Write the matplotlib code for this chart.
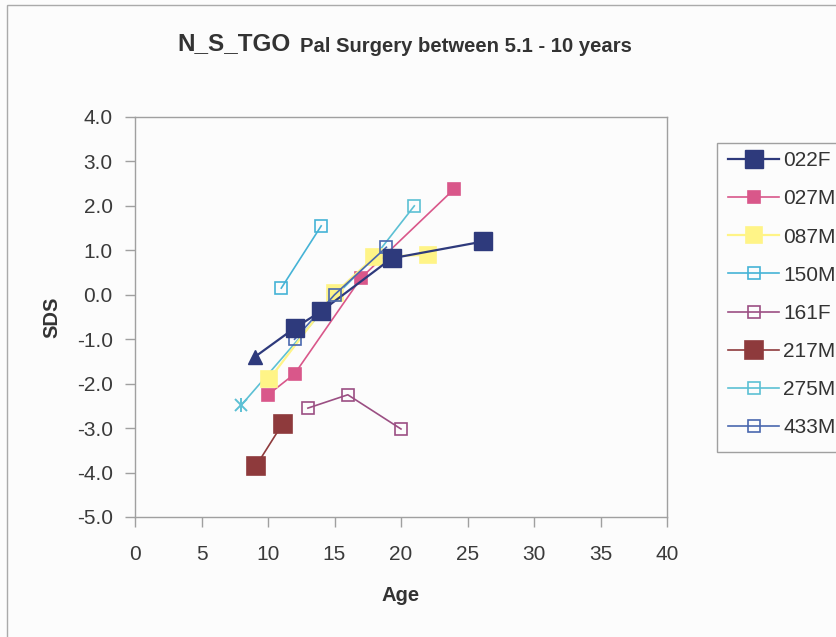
import matplotlib
matplotlib.use("Agg")
import matplotlib.pyplot as plt
from matplotlib.patches import Rectangle

plt.rcParams["font.family"] = ["Liberation Sans", "DejaVu Sans"]
plt.rcParams["axes.unicode_minus"] = False

# Data (age in years, SDS)
x_022F = [9, 12, 14, 19.3, 26.2]
y_022F = [-1.4, -0.75, -0.37, 0.82, 1.2]
x_027M = [10, 12, 17, 24]
y_027M = [-2.25, -1.78, 0.38, 2.38]
x_087M = [10.1, 15, 18, 22]
y_087M = [-1.9, 0.03, 0.85, 0.9]
x_150M = [11, 14]
y_150M = [0.15, 1.55]
x_161F = [13, 16, 20]
y_161F = [-2.55, -2.25, -3.02]
x_217M = [9.1, 11.1]
y_217M = [-3.85, -2.9]
x_275M = [8, 12, 15, 18, 21]
y_275M = [-2.48, -1.1, -0.05, 0.85, 2.0]
x_433M = [12, 15, 18.9]
y_433M = [-1.0, 0.0, 1.07]

names = ["022F", "027M", "087M", "150M", "161F", "217M", "275M", "433M"]
xs = [x_022F, x_027M, x_087M, x_150M, x_161F, x_217M, x_275M, x_433M]
ys = [y_022F, y_027M, y_087M, y_150M, y_161F, y_217M, y_275M, y_433M]

# (colour, marker face, marker size, line width)
styles = {
    "022F": ("#2E3A7C", "#2E3A7C", 13, 1.6),
    "027M": ("#D9578A", "#D9578A", 8, 1.2),
    "087M": ("#FFF487", "#FFF487", 12, 1.6),
    "150M": ("#45B3D6", "none", 8, 1.2),
    "161F": ("#9B4F83", "none", 8, 1.2),
    "217M": ("#8E3A3C", "#8E3A3C", 13, 1.2),
    "275M": ("#5CC0D4", "none", 8, 1.2),
    "433M": ("#4A68AE", "none", 8, 1.2),
}

W, H = 836, 637
fig = plt.figure(figsize=(W / 100, H / 100), dpi=100)
fig.patch.set_facecolor("#FCFCFC")
# outer chart border (runs off the right and bottom edges)
fig.patches.append(Rectangle((7 / W, -0.1), 1.2, 1 - 5 / H + 0.1,
                             transform=fig.transFigure, fill=False,
                             edgecolor="#AAAAAA", linewidth=1.0))

ax = fig.add_axes([135 / W, 120 / H, 532 / W, 400 / H])
ax.set_facecolor("#FCFCFC")

order = ["275M", "150M", "161F", "217M", "027M", "087M", "022F", "433M"]
handles = {}
for name in order:
    i = names.index(name)
    col, face, ms, lw = styles[name]
    x, y = xs[i], ys[i]
    if name == "022F":
        # first point drawn as a triangle
        ax.plot(x, y, color=col, lw=lw, zorder=3)
        ax.plot(x[:1], y[:1], "^", color=col, ms=10, zorder=4)
        ax.plot(x[1:], y[1:], "s", color=col, mfc=face, ms=ms, zorder=4)
        h, = ax.plot([], [], "-s", color=col, mfc=face, ms=ms, lw=lw)
    elif name == "275M":
        ax.plot(x, y, color=col, lw=lw, zorder=3)
        ax.plot(x[:1], y[:1], "x", color=col, ms=9, mew=1.4, zorder=4)
        ax.plot(x[:1], y[:1], "|", color=col, ms=10, mew=1.4, zorder=4)
        ax.plot(x[-1:], y[-1:], "s", color=col, mfc=face, ms=ms, mew=1.2, zorder=4)
        h, = ax.plot([], [], "-s", color=col, mfc=face, ms=ms, lw=lw, mew=1.2)
    else:
        h, = ax.plot(x, y, "-s", color=col, mfc=face, mec=col, ms=ms, lw=lw,
                     mew=1.2, zorder=3)
    handles[name] = h

yt = [4, 3, 2, 1, 0, -1, -2, -3, -4, -5]
ax.set_xlim(0, 40)
ax.set_ylim(-5, 4)
ax.set_xticks(range(0, 41, 5))
ax.set_yticks(yt)
ax.set_yticklabels([f"{v:.1f}" for v in yt])
for s in ax.spines.values():
    s.set_color("#A0A0A0")
    s.set_linewidth(1.0)
ax.tick_params(axis="both", colors="#A0A0A0", labelcolor="#3A3A3A",
               labelsize=15, length=7, width=1.0, direction="out")
ax.tick_params(axis="x", pad=13)
ax.tick_params(axis="y", pad=9)

ax.set_xlabel("Age", fontsize=14.5, fontweight="bold", color="#333333", labelpad=16)
ax.set_ylabel("SDS", fontsize=14.5, fontweight="bold", color="#333333", labelpad=11)

fig.text(177 / W, 1 - 44 / H, "N_S_TGO", fontsize=17.5, fontweight="bold",
         color="#333333", va="center", ha="left")
fig.text(300 / W, 1 - 46 / H, "Pal Surgery between 5.1 - 10 years",
         fontsize=14.6, fontweight="bold", color="#333333", va="center", ha="left")

# legend box, cut off at the right edge like the original
fig.patches.append(Rectangle((717 / W, 1 - 452 / H), 0.3, (452 - 143) / H,
                             transform=fig.transFigure, facecolor="#FCFCFC",
                             edgecolor="#A0A0A0", linewidth=1.0, zorder=0))
leg = fig.legend([handles[n] for n in names], names,
                 loc="upper left", bbox_to_anchor=(724 / W, 1 - 147 / H),
                 bbox_transform=fig.transFigure, fontsize=15,
                 frameon=False, handlelength=2.45, handletextpad=0.2,
                 labelspacing=0.92, borderpad=0.2, borderaxespad=0)
for t in leg.get_texts():
    t.set_color("#333333")

fig.savefig("out.png", dpi=100, facecolor=fig.get_facecolor())
